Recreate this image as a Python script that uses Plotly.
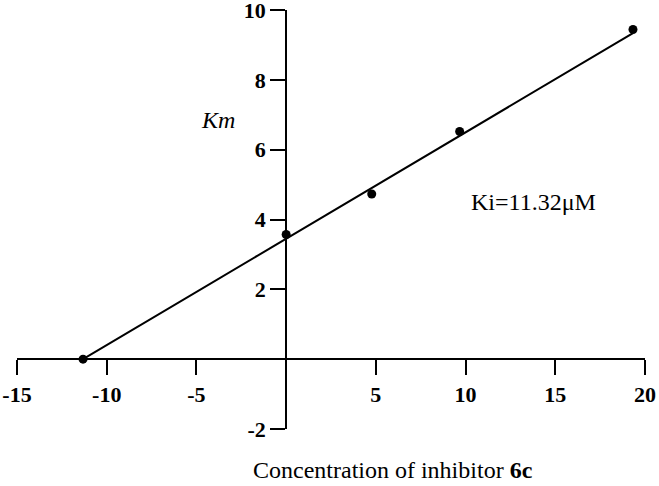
import plotly.graph_objects as go

# Km values (x = inhibitor concentration)
conc = [-11.32, 0.0, 4.77, 9.67, 19.33]
km = [0.0, 3.57, 4.73, 6.52, 9.44]

# linear fit drawn through the points
fit_x = [-11.32, 19.33]
fit_y = [0.0, 9.34]

x_ticks = [-15, -10, -5, 5, 10, 15, 20]
x_labels = ["-15", "-10", "-5", "5", "10", "15", "20"]
y_ticks = [-2, 2, 4, 6, 8, 10]
y_labels = ["-2", "2", "4", "6", "8", "10"]

serif = "Liberation Serif, Times New Roman, serif"

fig = go.Figure()

fig.add_trace(go.Scatter(
    x=fit_x, y=fit_y, mode="lines",
    line=dict(color="black", width=2),
    showlegend=False, hoverinfo="skip",
))
fig.add_trace(go.Scatter(
    x=conc, y=km, mode="markers",
    marker=dict(color="black", size=9),
    showlegend=False, cliponaxis=False,
))

axis_common = dict(
    showgrid=False, zeroline=False, showline=True,
    linecolor="black", linewidth=2,
    ticks="outside", ticklen=15, tickwidth=2, tickcolor="black",
    tickfont=dict(family=serif, size=22, color="black", weight="bold"),
    automargin=False, ticklabeloverflow="allow",
)

# axes cross at the origin, like the original replot
fig.update_xaxes(
    range=[-15, 20], tickmode="array", tickvals=x_ticks, ticktext=x_labels,
    anchor="free", position=2 / 12, domain=[0, 1],
    **axis_common,
)
fig.update_yaxes(
    range=[-2, 10], tickmode="array", tickvals=y_ticks, ticktext=y_labels,
    anchor="free", position=15 / 35, domain=[0, 1],
    **axis_common,
)

fig.add_annotation(
    x=-3.79, y=6.86, text="<i>Km</i>", showarrow=False,
    xanchor="center", yanchor="middle",
    font=dict(family=serif, size=24, color="black"),
)
fig.add_annotation(
    x=13.79, y=4.5, text="Ki=11.32μM", showarrow=False,
    xanchor="center", yanchor="middle",
    font=dict(family=serif, size=24, color="black"),
)
fig.add_annotation(
    xref="paper", yref="paper", x=0.598, y=-0.0975,
    xanchor="center", yanchor="middle",
    text="Concentration of inhibitor <b>6c</b>", showarrow=False,
    font=dict(family=serif, size=24, color="black"),
)

fig.update_layout(
    width=659, height=486,
    margin=dict(l=17, r=13.5, t=10, b=57),
    paper_bgcolor="white", plot_bgcolor="white",
)

# drop the default 8px body margin so the figure fills the window
fig.write_html(
    "out.html",
    config={"displayModeBar": False},
    post_script="document.body.style.margin='0';",
)
